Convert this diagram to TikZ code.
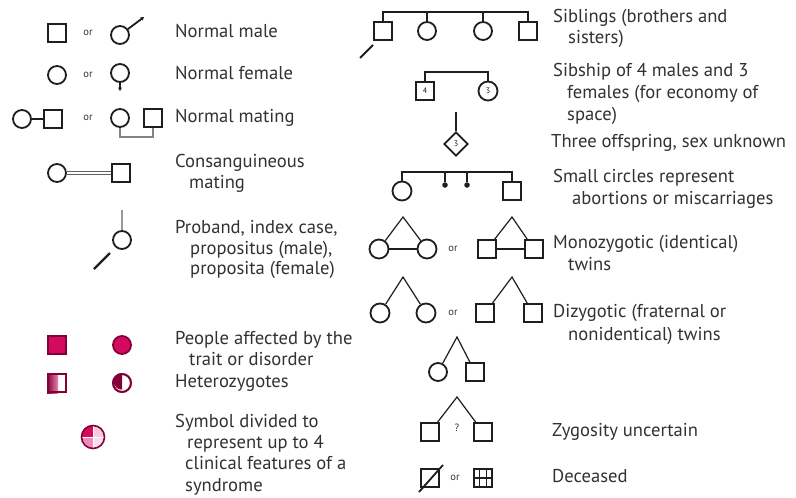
\documentclass[tikz,border=0pt]{standalone}
\usepackage{fontspec}
\setmainfont{PT Sans}
\usetikzlibrary{shapes.geometric,arrows.meta,calc}
\definecolor{mag}{RGB}{212,10,95}
\definecolor{magdark}{RGB}{130,0,55}
\definecolor{pinklt}{RGB}{248,200,222}
\definecolor{pinkmd}{RGB}{238,140,185}
\definecolor{symb}{RGB}{30,30,30}
\definecolor{txt}{RGB}{50,50,50}
\begin{document}
\begin{tikzpicture}[x=1pt,y=-1pt,
  sq/.style={draw=symb, line width=2pt, minimum size=18pt, inner sep=0pt},
  ci/.style={circle, draw=symb, line width=1.8pt, minimum size=18pt, inner sep=0pt},
  lbl/.style={anchor=west, font=\fontsize{18.6}{22}\selectfont, text=txt, inner sep=0pt, text height=13pt, text depth=4.5pt},
  orr/.style={font=\fontsize{10.5}{11}\selectfont, text=txt, inner sep=0pt},
  num/.style={font=\fontsize{8}{9}\selectfont, text=symb},
  lnk/.style={draw=symb, line width=1.2pt},
  arr/.style={draw=symb, line width=1.8pt},
]
\useasboundingbox[fill=white] (0,0) rectangle (796,498);

% ---------- left column ----------
% normal male
\node[sq] (m1) at (57,33) {};
\node[orr] (or1) at (88,33) {or};
\node[ci] (m2) at (120,35) {};
\coordinate (m2e) at (144,17);
\draw[arr,-{Stealth[length=3.5pt,width=4pt]}] (m2) -- (m2e);
\node[lbl] (t1) at (175,33) {Normal male};

% normal female
\node[ci] (f1) at (57,75) {};
\node[orr] (or2) at (88,75) {or};
\node[ci] (f2) at (120,73) {};
\coordinate (f2e) at (120,91);
\draw[arr,-{Stealth[length=3.5pt,width=4pt]}] (f2) -- (f2e);
\node[lbl] (t2) at (175,75) {Normal female};

% normal mating
\node[ci] (nm1) at (22,119) {};
\node[sq] (nm2) at (53,119) {};
\draw[lnk,line width=1.5pt] (nm1) -- (nm2);
\node[orr] (or3) at (88,118) {or};
\node[ci] (nm3) at (120,118) {};
\node[sq] (nm4) at (153,118) {};
\draw[draw=symb!55,line width=1.8pt] (nm3.south) -- ++(0,9) -| (nm4.south);
\node[lbl] (t3) at (175,118) {Normal mating};

% consanguineous
\node[ci] (cm1) at (57,173) {};
\node[sq] (cm2) at (121,173) {};
\draw[draw=symb!70,double=white,double distance=1.6pt,line width=1pt] (cm1) -- (cm2);
\node[lbl] (t4a) at (175,163) {Consanguineous};
\node[lbl] (t4b) at (189,184) {mating};

% proband
\node[ci] (pb) at (122,240) {};
\coordinate (pbt) at (122,210);
\draw[draw=symb!45,line width=1.6pt] (pbt) -- (pb);
\coordinate (pa1) at (94,269);
\coordinate (pa2) at (110,253);
\draw[arr,line width=2.2pt] (pa1) -- (pa2);
\node[lbl] (t5a) at (175,229) {Proband, index case,};
\node[lbl] (t5b) at (190,250) {propositus (male),};
\node[lbl] (t5c) at (190,270) {proposita (female)};

% affected
\node[sq,fill=mag,draw=magdark] (af1) at (57,345) {};
\node[ci,fill=mag,draw=magdark] (af2) at (122,345) {};
\node[lbl] (t6a) at (175,340) {People affected by the};
\node[lbl] (t6b) at (189,361) {trait or disorder};

% heterozygotes
\node[sq,draw=magdark] (hz1) at (57,383) {};
\fill[left color=magdark,right color=mag!50] (hz1.south west) rectangle ([xshift=1pt]hz1.north);
\node[sq,draw=magdark] at (57,383) {};
\node[ci,draw=magdark] (hz2) at (122,383) {};
\fill[magdark] (hz2.north) arc[start angle=90,end angle=270,radius=8.3pt] -- cycle;
\node[ci,draw=magdark] at (122,383) {};
\node[lbl] (t7) at (175,383) {Heterozygotes};

% divided symbol
\node[circle,minimum size=23pt,inner sep=0pt] (dv) at (93,437) {};
\fill[mag] (dv.center) -- (dv.west) arc[start angle=180,end angle=90,radius=11.5pt] -- cycle;
\fill[pinklt] (dv.center) -- (dv.north) arc[start angle=90,end angle=0,radius=11.5pt] -- cycle;
\fill[pinkmd] (dv.center) -- (dv.south) arc[start angle=270,end angle=180,radius=11.5pt] -- cycle;
\fill[pinklt!60] (dv.center) -- (dv.east) arc[start angle=0,end angle=-90,radius=11.5pt] -- cycle;
\draw[white,line width=0.8pt] (dv.west) -- (dv.east) (dv.north) -- (dv.south);
\node[circle,minimum size=23pt,inner sep=0pt,draw=magdark,line width=1.6pt] at (93,437) {};
\node[lbl] (t8a) at (175,423) {Symbol divided to};
\node[lbl] (t8b) at (187,444) {represent up to 4};
\node[lbl] (t8c) at (185,465) {clinical features of a};
\node[lbl] (t8d) at (185,487) {syndrome};

% ---------- right column ----------
% siblings
\node[sq] (s1) at (383,31) {};
\node[ci] (s2) at (427,31) {};
\node[ci] (s3) at (483,31) {};
\node[sq] (s4) at (528,31) {};
\coordinate (sb1) at (383,12);
\coordinate (sb4) at (528,12);
\draw[lnk] (s1) -- (sb1) -- (sb4) -- (s4);
\draw[lnk] (s2) -- (s2 |- sb1);
\draw[lnk] (s3) -- (s3 |- sb1);
\coordinate (sa1) at (360,58);
\coordinate (sa2) at (373,45);
\draw[arr,line width=2pt] (sa1) -- (sa2);
\node[lbl] (r1a) at (553,18) {Siblings (brothers and};
\node[lbl] (r1b) at (568,39) {sisters)};

% sibship
\node[sq,num] (sp1) at (425,91) {4};
\node[ci,num,minimum size=19pt] (sp2) at (488,91) {3};
\coordinate (spl) at (425,72);
\coordinate (spr) at (488,72);
\draw[lnk] (sp1) -- (spl) -- (spr) -- (sp2);
\node[lbl] (r2a) at (553,72) {Sibship of 4 males and 3};
\node[lbl] (r2b) at (567,94) {females (for economy of};
\node[lbl] (r2c) at (567,116) {space)};

% three offspring
\node[diamond,draw=symb,line width=1.7pt,minimum size=24pt,inner sep=0pt,num] (dm) at (456,144) {3};
\coordinate (dmt) at (456,112);
\draw[lnk] (dmt) -- (dm);
\node[lbl] (r3) at (551,143) {Three offspring, sex unknown};

% abortions
\node[ci,minimum size=19pt] (ab1) at (402,191) {};
\node[sq] (ab4) at (512,191) {};
\node[circle,fill=symb,minimum size=5.5pt,inner sep=0pt] (ab2) at (445,185) {};
\node[circle,fill=symb,minimum size=5.5pt,inner sep=0pt] (ab3) at (467,185) {};
\coordinate (abl) at (402,172);
\coordinate (abr) at (512,172);
\draw[lnk] (ab1) -- (abl) -- (abr) -- (ab4);
\draw[lnk] (ab2) -- (ab2 |- abl);
\draw[lnk] (ab3) -- (ab3 |- abl);
\node[lbl] (r4a) at (553,178) {Small circles represent};
\node[lbl] (r4b) at (572,200) {abortions or miscarriages};

% monozygotic
\coordinate (mza) at (403,217);
\node[ci,minimum size=19pt] (mz1) at (379,249) {};
\node[ci,minimum size=19pt] (mz2) at (427,249) {};
\draw[lnk] (mz1) -- (mza) -- (mz2);
\draw[lnk] (mz1) -- (mz2);
\node[orr] (or4) at (453,249) {or};
\coordinate (mzb) at (512,217);
\node[sq] (mz3) at (487,249) {};
\node[sq] (mz4) at (534,249) {};
\draw[lnk] (mz3) -- (mzb) -- (mz4);
\draw[lnk] (mz3) -- (mz4);
\node[lbl] (r5a) at (553,244) {Monozygotic (identical)};
\node[lbl] (r5b) at (568,266) {twins};

% dizygotic
\coordinate (dza) at (403,277);
\node[ci,minimum size=19pt] (dz1) at (380,313) {};
\node[ci,minimum size=19pt] (dz2) at (426,313) {};
\draw[lnk] (dz1) -- (dza) -- (dz2);
\node[orr] (or5) at (453,313) {or};
\coordinate (dzb) at (512,277);
\node[sq] (dz3) at (485,313) {};
\node[sq] (dz4) at (533,313) {};
\draw[lnk] (dz3) -- (dzb) -- (dz4);
\node[lbl] (r6a) at (553,313) {Dizygotic (fraternal or};
\node[lbl] (r6b) at (568,336) {nonidentical) twins};

\coordinate (dzc) at (457,337);
\node[ci] (dz5) at (438,372) {};
\node[sq] (dz6) at (475,372) {};
\draw[lnk] (dz5) -- (dzc) -- (dz6);

% zygosity uncertain
\coordinate (zua) at (457,397);
\node[sq] (zu1) at (430,432) {};
\node[sq] (zu2) at (483,432) {};
\draw[lnk] (zu1) -- (zua) -- (zu2);
\node[orr] (zuq) at (457,428) {?};
\node[lbl] (r7) at (552,432) {Zygosity uncertain};

% deceased
\node[sq] (dc1) at (430,478) {};
\coordinate (dcd1) at (419,492);
\coordinate (dcd2) at (443,465);
\draw[arr] (dcd1) -- (dcd2);
\node[orr] (or6) at (455,478) {or};
\node[sq] (dc2) at (483,478) {};
\draw[draw=symb,line width=1.2pt]
  ($(dc2.north west)!0.33!(dc2.north east)$) -- ($(dc2.south west)!0.33!(dc2.south east)$)
  ($(dc2.north west)!0.67!(dc2.north east)$) -- ($(dc2.south west)!0.67!(dc2.south east)$)
  (dc2.west) -- (dc2.east);
\node[lbl] (r8) at (552,478) {Deceased};
\end{tikzpicture}
\end{document}
